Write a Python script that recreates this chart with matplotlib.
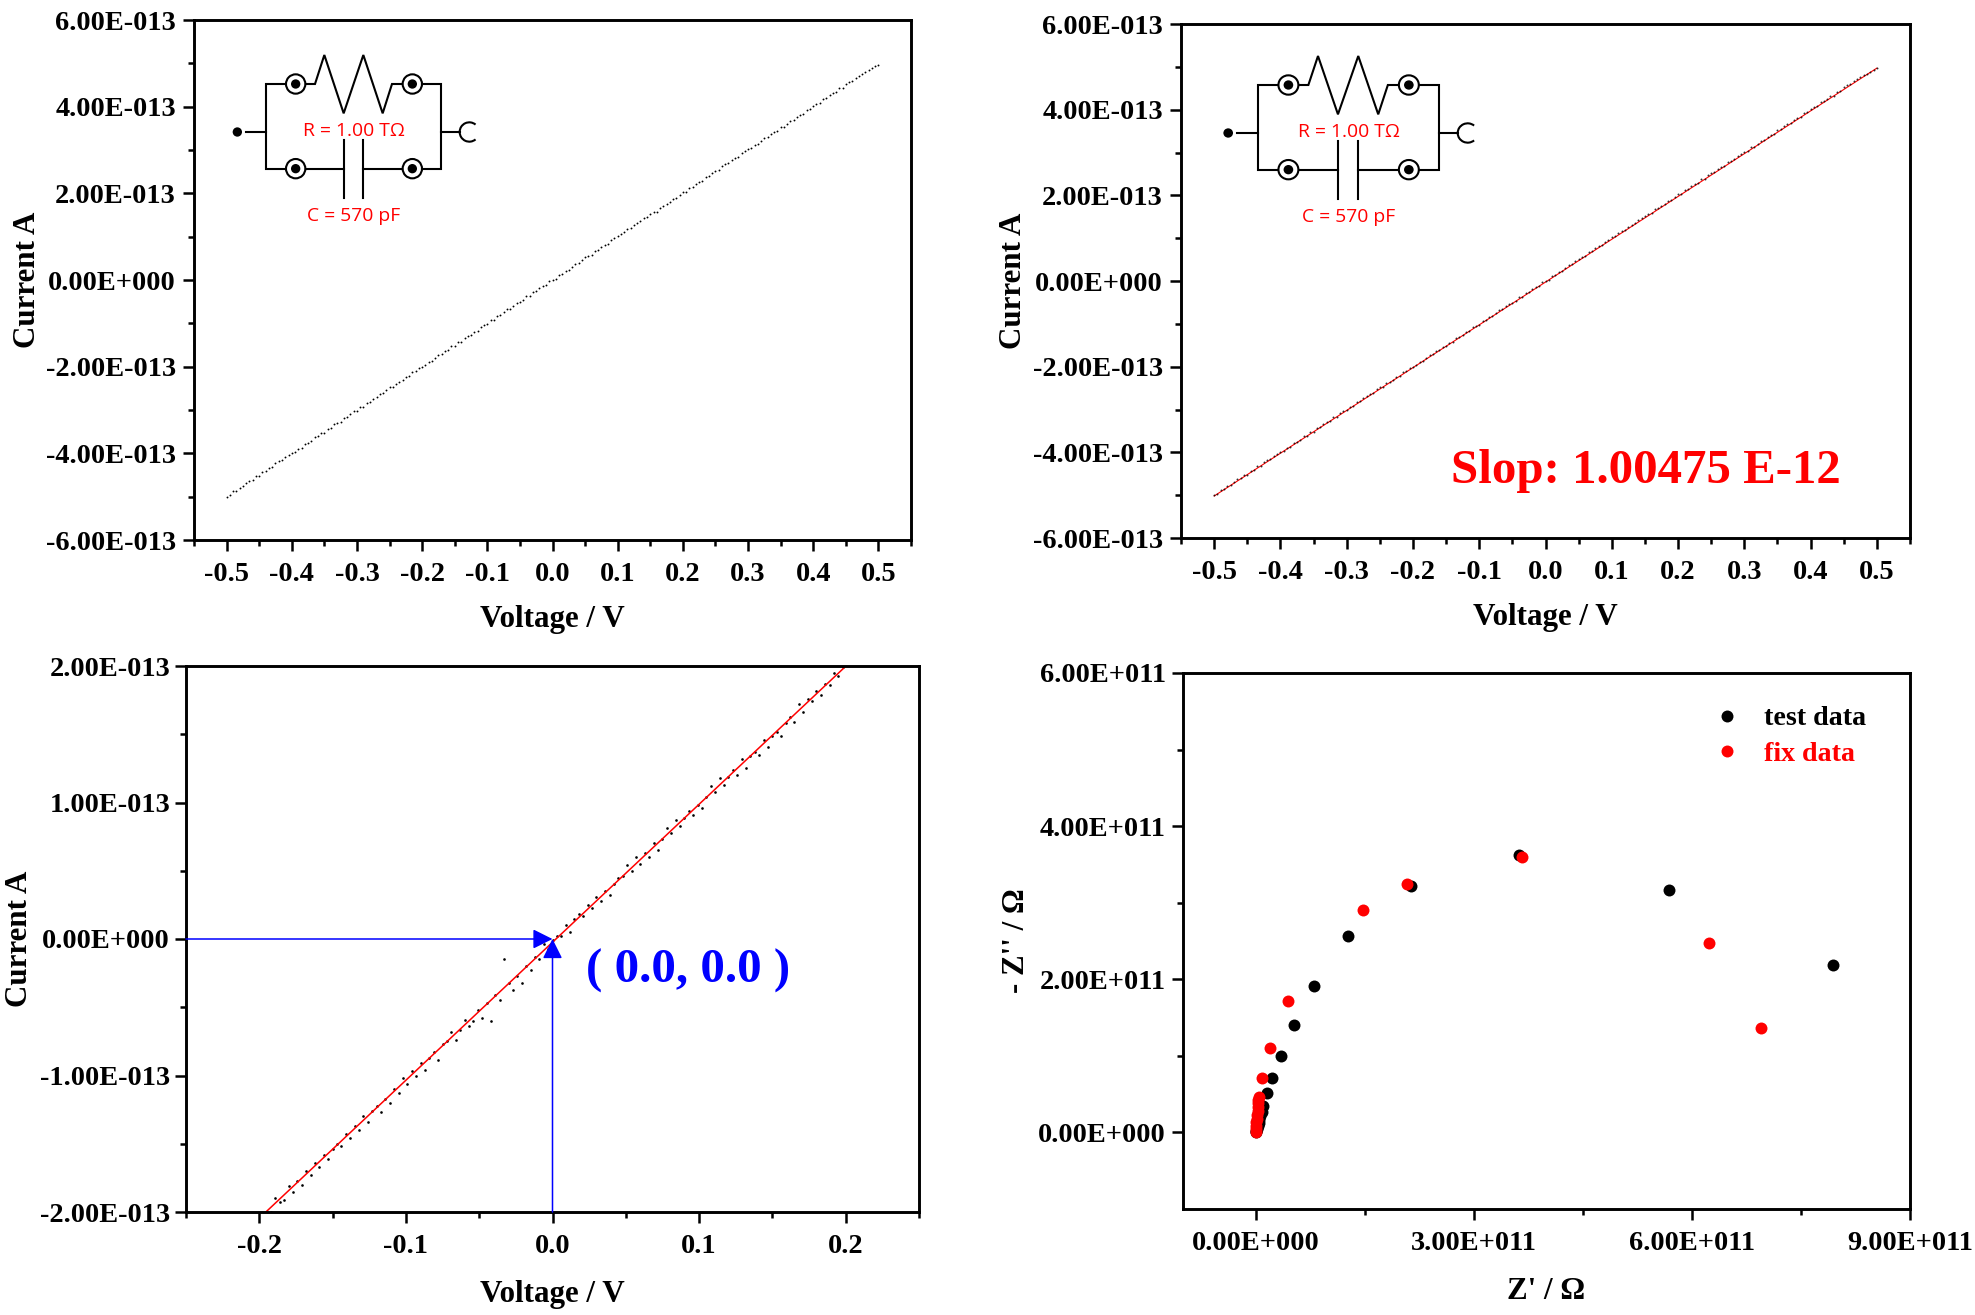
import numpy as np
import matplotlib
matplotlib.use('Agg')
import matplotlib.pyplot as plt
from matplotlib.patches import Circle, Arc

plt.rcParams['font.family'] = ['Liberation Serif', 'DejaVu Serif']
plt.rcParams['font.weight'] = 'bold'

W, H = 1975, 1315

# --- I-V sweep, full range (V, 1e-13 A) ---
sweep_v = [
    -0.500, -0.495, -0.490, -0.485, -0.480, -0.475, -0.470, -0.465, -0.460, -0.455,
    -0.450, -0.445, -0.440, -0.435, -0.430, -0.425, -0.420, -0.415, -0.410, -0.405,
    -0.400, -0.395, -0.390, -0.385, -0.380, -0.375, -0.370, -0.365, -0.360, -0.355,
    -0.350, -0.345, -0.340, -0.335, -0.330, -0.325, -0.320, -0.315, -0.310, -0.305,
    -0.300, -0.295, -0.290, -0.285, -0.280, -0.275, -0.270, -0.265, -0.260, -0.255,
    -0.250, -0.245, -0.240, -0.235, -0.230, -0.225, -0.220, -0.215, -0.210, -0.205,
    -0.200, -0.195, -0.190, -0.185, -0.180, -0.175, -0.170, -0.165, -0.160, -0.155,
    -0.150, -0.145, -0.140, -0.135, -0.130, -0.125, -0.120, -0.115, -0.110, -0.105,
    -0.100, -0.095, -0.090, -0.085, -0.080, -0.075, -0.070, -0.065, -0.060, -0.055,
    -0.050, -0.045, -0.040, -0.035, -0.030, -0.025, -0.020, -0.015, -0.010, -0.005,
    0.000, 0.005, 0.010, 0.015, 0.020, 0.025, 0.030, 0.035, 0.040, 0.045,
    0.050, 0.055, 0.060, 0.065, 0.070, 0.075, 0.080, 0.085, 0.090, 0.095,
    0.100, 0.105, 0.110, 0.115, 0.120, 0.125, 0.130, 0.135, 0.140, 0.145,
    0.150, 0.155, 0.160, 0.165, 0.170, 0.175, 0.180, 0.185, 0.190, 0.195,
    0.200, 0.205, 0.210, 0.215, 0.220, 0.225, 0.230, 0.235, 0.240, 0.245,
    0.250, 0.255, 0.260, 0.265, 0.270, 0.275, 0.280, 0.285, 0.290, 0.295,
    0.300, 0.305, 0.310, 0.315, 0.320, 0.325, 0.330, 0.335, 0.340, 0.345,
    0.350, 0.355, 0.360, 0.365, 0.370, 0.375, 0.380, 0.385, 0.390, 0.395,
    0.400, 0.405, 0.410, 0.415, 0.420, 0.425, 0.430, 0.435, 0.440, 0.445,
    0.450, 0.455, 0.460, 0.465, 0.470, 0.475, 0.480, 0.485, 0.490, 0.495,
    0.500,
]
sweep_i = [
    -5.00, -4.97, -4.88, -4.86, -4.79, -4.76, -4.69, -4.63, -4.61, -4.53,
    -4.52, -4.43, -4.41, -4.33, -4.31, -4.23, -4.18, -4.16, -4.08, -4.04,
    -4.00, -3.97, -3.89, -3.87, -3.78, -3.75, -3.71, -3.63, -3.61, -3.53,
    -3.52, -3.44, -3.42, -3.33, -3.30, -3.27, -3.18, -3.17, -3.09, -3.03,
    -3.02, -2.94, -2.92, -2.83, -2.81, -2.74, -2.69, -2.63, -2.61, -2.53,
    -2.48, -2.47, -2.39, -2.36, -2.31, -2.24, -2.21, -2.13, -2.11, -2.04,
    -2.01, -1.97, -1.89, -1.87, -1.79, -1.73, -1.71, -1.64, -1.62, -1.53,
    -1.52, -1.44, -1.42, -1.33, -1.30, -1.26, -1.19, -1.17, -1.08, -1.04,
    -1.02, -0.93, -0.92, -0.83, -0.81, -0.74, -0.68, -0.66, -0.59, -0.53,
    -0.51, -0.46, -0.38, -0.37, -0.28, -0.26, -0.19, -0.14, -0.12, -0.03,
    0.01, 0.03, 0.12, 0.14, 0.21, 0.24, 0.31, 0.37, 0.39, 0.47,
    0.52, 0.56, 0.58, 0.67, 0.69, 0.76, 0.81, 0.83, 0.92, 0.96,
    1.02, 1.06, 1.11, 1.17, 1.19, 1.27, 1.31, 1.36, 1.42, 1.46,
    1.52, 1.57, 1.58, 1.67, 1.71, 1.76, 1.79, 1.87, 1.89, 1.96,
    2.02, 2.04, 2.12, 2.14, 2.22, 2.27, 2.29, 2.37, 2.39, 2.47,
    2.51, 2.54, 2.62, 2.67, 2.69, 2.77, 2.81, 2.84, 2.92, 2.97,
    3.02, 3.04, 3.12, 3.14, 3.21, 3.27, 3.29, 3.36, 3.42, 3.44,
    3.52, 3.54, 3.61, 3.67, 3.69, 3.77, 3.81, 3.84, 3.92, 3.94,
    4.02, 4.06, 4.09, 4.17, 4.21, 4.26, 4.31, 4.33, 4.42, 4.44,
    4.52, 4.57, 4.59, 4.66, 4.71, 4.76, 4.81, 4.84, 4.89, 4.93,
    4.97,
]
fit_v = [-0.5, 0.5]
fit_i = [-5.02, 4.97]

# --- I-V sweep around zero (V, 1e-13 A) ---
zoom_v = [
    -0.192, -0.189, -0.186, -0.183, -0.180, -0.177, -0.174, -0.171, -0.168, -0.165,
    -0.162, -0.159, -0.156, -0.153, -0.150, -0.147, -0.144, -0.141, -0.138, -0.135,
    -0.132, -0.129, -0.126, -0.123, -0.120, -0.117, -0.114, -0.111, -0.108, -0.105,
    -0.102, -0.099, -0.096, -0.093, -0.090, -0.087, -0.084, -0.081, -0.078, -0.075,
    -0.072, -0.069, -0.066, -0.063, -0.060, -0.057, -0.054, -0.051, -0.048, -0.045,
    -0.042, -0.039, -0.036, -0.033, -0.030, -0.027, -0.024, -0.021, -0.018, -0.015,
    -0.012, -0.009, -0.006, -0.003, 0.000, 0.003, 0.006, 0.009, 0.012, 0.015,
    0.018, 0.021, 0.024, 0.027, 0.030, 0.033, 0.036, 0.039, 0.042, 0.045,
    0.048, 0.051, 0.054, 0.057, 0.060, 0.063, 0.066, 0.069, 0.072, 0.075,
    0.078, 0.081, 0.084, 0.087, 0.090, 0.093, 0.096, 0.099, 0.102, 0.105,
    0.108, 0.111, 0.114, 0.117, 0.120, 0.123, 0.126, 0.129, 0.132, 0.135,
    0.138, 0.141, 0.144, 0.147, 0.150, 0.153, 0.156, 0.159, 0.162, 0.165,
    0.168, 0.171, 0.174, 0.177, 0.180, 0.183, 0.186, 0.189, 0.192, 0.195,
    0.198,
]
zoom_i = [
    -2.00, -1.90, -1.93, -1.91, -1.81, -1.85, -1.77, -1.80, -1.70, -1.73,
    -1.64, -1.67, -1.58, -1.61, -1.54, -1.50, -1.52, -1.43, -1.46, -1.37,
    -1.40, -1.30, -1.34, -1.26, -1.22, -1.27, -1.17, -1.20, -1.10, -1.13,
    -1.02, -1.06, -0.97, -1.00, -0.91, -0.96, -0.87, -0.83, -0.89, -0.77,
    -0.75, -0.68, -0.74, -0.67, -0.59, -0.64, -0.60, -0.52, -0.58, -0.47,
    -0.60, -0.41, -0.45, -0.15, -0.32, -0.37, -0.27, -0.32, -0.20, -0.23,
    -0.13, -0.15, -0.04, -0.07, -0.01, 0.02, 0.02, 0.10, 0.05, 0.15,
    0.18, 0.17, 0.25, 0.23, 0.31, 0.28, 0.35, 0.32, 0.40, 0.45,
    0.46, 0.54, 0.50, 0.60, 0.55, 0.63, 0.60, 0.70, 0.65, 0.73,
    0.81, 0.78, 0.87, 0.83, 0.89, 0.94, 0.91, 0.98, 0.96, 1.04,
    1.12, 1.08, 1.18, 1.13, 1.19, 1.24, 1.20, 1.32, 1.25, 1.34,
    1.37, 1.35, 1.46, 1.41, 1.49, 1.52, 1.49, 1.58, 1.63, 1.59,
    1.72, 1.66, 1.76, 1.74, 1.82, 1.79, 1.87, 1.86, 1.95, 1.93,
    1.99,
]
zoom_fit_v = [-0.1955, 0.2002]
zoom_fit_i = [-2.0, 2.0]

# --- Nyquist data (1e11 ohm) ---
test_re = [7.94, 5.69, 3.62, 2.13, 1.27, 0.80, 0.52, 0.35, 0.23, 0.16, 0.10, 0.08, 0.06, 0.05,
           0.04, 0.03, 0.02, 0.01, 0.00]
test_im = [2.19, 3.16, 3.62, 3.22, 2.56, 1.91, 1.40, 1.00, 0.71, 0.51, 0.35, 0.27, 0.21, 0.16,
           0.12, 0.08, 0.05, 0.02, 0.00]
fix_re = [6.95, 6.24, 3.66, 2.08, 1.47, 0.45, 0.19, 0.09, 0.04, 0.035, 0.03, 0.03, 0.025, 0.02,
          0.015, 0.01, 0.008, 0.005, 0.00]
fix_im = [1.36, 2.47, 3.60, 3.25, 2.91, 1.71, 1.10, 0.71, 0.46, 0.42, 0.38, 0.33, 0.28, 0.23,
          0.18, 0.13, 0.09, 0.05, 0.01]

iv_yticks = [-6, -4, -2, 0, 2, 4, 6]
iv_ylabels = ['-6.00E-013', '-4.00E-013', '-2.00E-013', '0.00E+000', '2.00E-013', '4.00E-013', '6.00E-013']
iv_xticks = [-0.5, -0.4, -0.3, -0.2, -0.1, 0.0, 0.1, 0.2, 0.3, 0.4, 0.5]
iv_xlabels = ['-0.5', '-0.4', '-0.3', '-0.2', '-0.1', '0.0', '0.1', '0.2', '0.3', '0.4', '0.5']
zoom_yticks = [-2, -1, 0, 1, 2]
zoom_ylabels = ['-2.00E-013', '-1.00E-013', '0.00E+000', '1.00E-013', '2.00E-013']
zoom_xticks = [-0.2, -0.1, 0.0, 0.1, 0.2]
zoom_xlabels = ['-0.2', '-0.1', '0.0', '0.1', '0.2']
nyq_xticks = [0, 3, 6, 9]
nyq_xlabels = ['0.00E+000', '3.00E+011', '6.00E+011', '9.00E+011']
nyq_yticks = [0, 2, 4, 6]
nyq_ylabels = ['0.00E+000', '2.00E+011', '4.00E+011', '6.00E+011']


def make_axes(fig, left, top, right, bottom):
    return fig.add_axes([left / W, 1 - bottom / H, (right - left) / W, (bottom - top) / H])


def style_axes(ax, xlabel, ylabel, xticks, xticklabels, xminor, yticks, yticklabels, yminor,
               xlabel_y, ylabel_x, ypad=5):
    for spine in ax.spines.values():
        spine.set_linewidth(2.1)
    ax.set_xticks(xticks, xticklabels)
    ax.set_yticks(yticks, yticklabels)
    ax.set_xticks(xminor, minor=True)
    ax.set_yticks(yminor, minor=True)
    ax.tick_params(which='major', direction='out', length=8, width=1.8, labelsize=20.4)
    ax.tick_params(which='minor', direction='out', length=4.5, width=1.8)
    ax.tick_params(axis='x', which='major', pad=7.5)
    ax.tick_params(axis='y', which='major', pad=ypad)
    ax.set_xlabel(xlabel, fontsize=22.3, fontweight='bold', va='top')
    ax.set_ylabel(ylabel, fontsize=22.3, fontweight='bold', va='bottom')
    ax.xaxis.set_label_coords(0.5, xlabel_y)
    ax.yaxis.set_label_coords(ylabel_x, 0.5)


def draw_circuit(fig, left, top, width=340):
    # pixel box of the little RC schematic, coordinates are 3x pixels
    cx = fig.add_axes([left / W, 1 - (top + 220) / H, width / W, 220 / H])
    cx.set_xlim(0, 1020)
    cx.set_ylim(660, 0)
    cx.axis('off')
    wires = [
        ([198, 258], [336, 336]),
        ([316, 258, 258, 316], [192, 192, 446, 446]),
        ([378, 405, 433, 491, 550, 608, 636, 666], [192, 192, 105, 280, 105, 280, 192, 192]),
        ([727, 784, 784, 727], [192, 192, 446, 446]),
        ([378, 491], [446, 446]),
        ([550, 666], [446, 446]),
        ([491, 491], [360, 535]),
        ([550, 550], [360, 535]),
        ([784, 840], [336, 336]),
    ]
    for xs, ys in wires:
        cx.plot(xs, ys, color='black', lw=1.5, solid_joinstyle='miter')
    for x0, y0 in [(347, 192), (697, 192), (347, 446), (697, 446)]:
        cx.add_patch(Circle((x0, y0), 29, fc='white', ec='black', lw=1.5))
        cx.add_patch(Circle((x0, y0), 14, fc='black', ec='none'))
    cx.add_patch(Circle((172, 336), 14, fc='black', ec='none'))
    cx.add_patch(Arc((868, 336), 58, 58, theta1=50, theta2=310, color='black', lw=1.5))
    cx.text(522, 334, 'R = 1.00 T\u03a9', color='red', fontsize=13.9, fontweight='normal',
            family=['Open Sans', 'DejaVu Sans'], ha='center', va='center')
    cx.text(522, 588, 'C = 570 pF', color='red', fontsize=13.9, fontweight='normal',
            family=['Open Sans', 'DejaVu Sans'], ha='center', va='center')


fig = plt.figure(figsize=(W / 100, H / 100), dpi=100, facecolor='white')

sweep_x = np.array(sweep_v)
sweep_y = np.array(sweep_i)

# top left
ax1 = make_axes(fig, 194, 20, 911, 540)
ax1.plot(sweep_x, sweep_y, ls='', marker='o', ms=1.35, mew=0, color='black')
ax1.set_xlim(-0.55, 0.55)
ax1.set_ylim(-6, 6)
style_axes(ax1, 'Voltage / V', 'Current A', iv_xticks, iv_xlabels,
           [-0.55, -0.45, -0.35, -0.25, -0.15, -0.05, 0.05, 0.15, 0.25, 0.35, 0.45, 0.55],
           iv_yticks, iv_ylabels, [-5, -3, -1, 1, 3, 5], -0.125, -0.212)
draw_circuit(fig, 180, 20)

# top right
ax2 = make_axes(fig, 1181, 24, 1910, 538)
ax2.plot(fit_v, fit_i, color='red', lw=0.8)
ax2.plot(sweep_x, sweep_y, ls='', marker='o', ms=1.4, mew=0, color='black', alpha=0.8)
ax2.set_xlim(-0.55, 0.55)
ax2.set_ylim(-6, 6)
style_axes(ax2, 'Voltage / V', 'Current A', iv_xticks, iv_xlabels,
           [-0.55, -0.45, -0.35, -0.25, -0.15, -0.05, 0.05, 0.15, 0.25, 0.35, 0.45, 0.55],
           iv_yticks, iv_ylabels, [-5, -3, -1, 1, 3, 5], -0.126, -0.21)
ax2.text(0.152, -4.44, 'Slop: 1.00475 E-12', color='red', fontsize=35.2, fontweight='bold',
         ha='center', va='center')
draw_circuit(fig, 1169, 21, width=351)

# bottom left
ax3 = make_axes(fig, 186, 666, 919, 1212)
ax3.plot(zoom_v, zoom_i, ls='', marker='o', ms=1.9, mew=0, color='black')
ax3.plot(zoom_fit_v, zoom_fit_i, color='red', lw=1.1)
ax3.set_xlim(-0.25, 0.25)
ax3.set_ylim(-2, 2)
style_axes(ax3, 'Voltage / V', 'Current A', zoom_xticks, zoom_xlabels,
           [-0.25, -0.15, -0.05, 0.05, 0.15, 0.25],
           zoom_yticks, zoom_ylabels, [-1.5, -0.5, 0.5, 1.5], -0.125, -0.208, ypad=3.5)
arrow_style = dict(arrowstyle='-|>,head_length=12,head_width=6', mutation_scale=1, color='#0000ff',
                   lw=1.1, shrinkA=0, shrinkB=0)
ax3.annotate('', xy=(0.0, 0.0), xytext=(-0.25, 0.0), arrowprops=arrow_style)
ax3.annotate('', xy=(0.0, 0.0), xytext=(0.0, -2.0), arrowprops=arrow_style)
ax3.text(0.0925, -0.23, '( 0.0, 0.0 )', color='#0000ff', fontsize=35.4, fontweight='bold',
         ha='center', va='center')

# bottom right
ax4 = make_axes(fig, 1183, 673, 1910, 1209)
ax4.plot(test_re, test_im, ls='', marker='o', ms=8.6, mew=0, color='black', label='test data')
ax4.plot(fix_re, fix_im, ls='', marker='o', ms=8.6, mew=0, color='red', label='fix data')
ax4.set_xlim(-1, 9)
ax4.set_ylim(-1, 6)
style_axes(ax4, "Z' / \u03a9", "- Z'' / \u03a9", nyq_xticks, nyq_xlabels, [1.5, 4.5, 7.5],
           nyq_yticks, nyq_ylabels, [1, 3, 5], -0.127, -0.209, ypad=4.5)
ax4.legend(loc='upper left', bbox_to_anchor=(0.729, 0.939), frameon=False, fontsize=20.2, numpoints=1,
           handlelength=1.0, handletextpad=0.83, labelspacing=0.35, labelcolor='linecolor',
           borderpad=0, borderaxespad=0)

fig.savefig('out.png', dpi=100)
